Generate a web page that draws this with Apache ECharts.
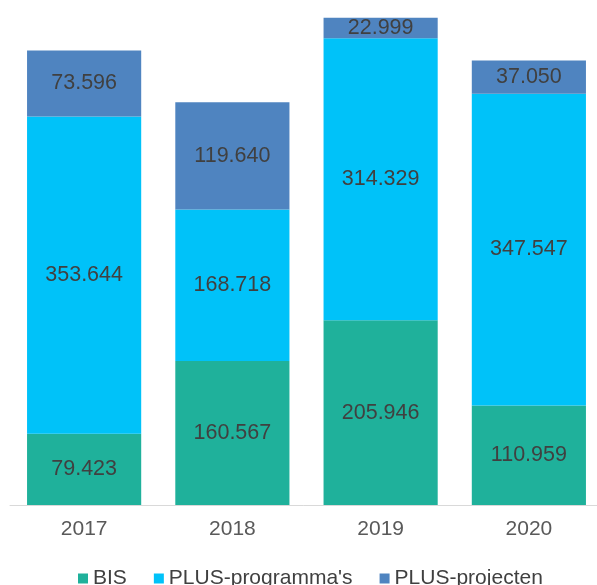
<!DOCTYPE html>
<html>
<head>
<meta charset="utf-8">
<script src="https://cdn.jsdelivr.net/npm/echarts@6/dist/echarts.min.js"></script>
<style>
  html, body { margin: 0; padding: 0; background: #fff; }
  #chart { width: 597px; height: 585px; }
</style>
</head>
<body>
<div id="chart"></div>
<script>
// jaren en bedragen (x 1000)
const years = ['2017', '2018', '2019', '2020'];
const bis = [79423, 160567, 205946, 110959];
const plusProgramma = [353644, 168718, 314329, 347547];
const plusProjecten = [73596, 119640, 22999, 37050];

// 79423 -> "79.423"
function fmt(v) {
  return String(v).replace(/\B(?=(\d{3})+(?!\d))/g, '.');
}

const chart = echarts.init(document.getElementById('chart'));

function barSeries(name, data, color) {
  return {
    name: name,
    type: 'bar',
    stack: 'totaal',
    data: data,
    barWidth: '77%',
    itemStyle: { color: color },
    label: {
      show: true,
      position: 'inside',
      color: '#404040',
      fontFamily: 'Liberation Sans, Arial, sans-serif',
      fontSize: 21.5,
      formatter: (p) => fmt(p.value)
    },
    emphasis: { disabled: true }
  };
}

const option = {
  animation: false,
  grid: {
    left: 10,
    width: 593,
    top: 11.6,
    bottom: 80,
    outerBoundsMode: 'none'
  },
  legend: {
    top: 563,
    left: 73,
    icon: 'rect',
    itemWidth: 10,
    itemHeight: 10,
    itemGap: 27,
    textStyle: {
      color: '#404040',
      fontFamily: 'Liberation Sans, Arial, sans-serif',
      fontSize: 21
    },
    data: ['BIS', "PLUS-programma's", 'PLUS-projecten']
  },
  xAxis: {
    type: 'category',
    data: years,
    axisLine: { lineStyle: { color: '#d9d9d9', width: 1 } },
    axisTick: { show: false },
    axisLabel: {
      color: '#595959',
      fontFamily: 'Liberation Sans, Arial, sans-serif',
      fontSize: 21,
      margin: 14
    }
  },
  yAxis: {
    type: 'value',
    min: 0,
    max: 550000,
    show: false,
    splitLine: { show: false }
  },
  series: [
    barSeries('BIS', bis, '#1fb19b'),
    barSeries("PLUS-programma's", plusProgramma, '#00c2f9'),
    barSeries('PLUS-projecten', plusProjecten, '#4f84c0')
  ]
};

chart.setOption(option);
</script>
</body>
</html>
